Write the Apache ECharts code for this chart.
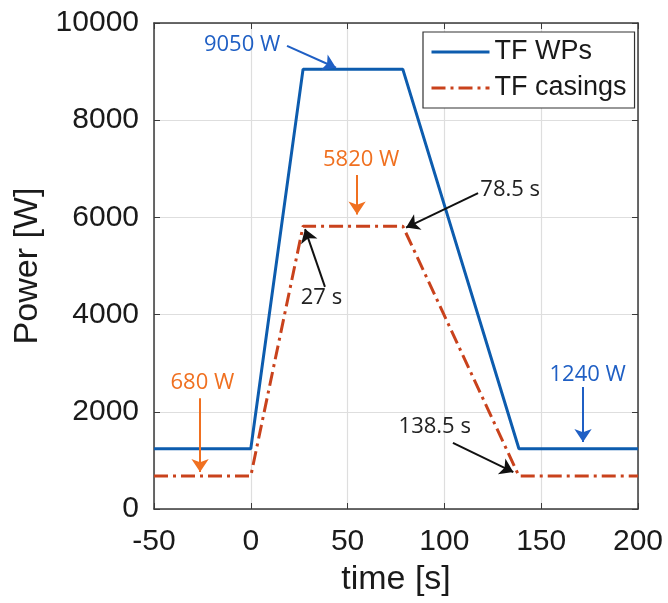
<!DOCTYPE html>
<html>
<head>
<meta charset="utf-8">
<script src="https://cdn.jsdelivr.net/npm/echarts@6/dist/echarts.min.js"></script>
<style>
  html, body { margin: 0; padding: 0; background: #fff; }
  #chart { width: 668px; height: 603px; }
</style>
</head>
<body>
<div id="chart"></div>
<script>
  // time [s] / power [W] breakpoints
  var wpTime = [-50, 0, 27, 78.5, 138.5, 200];
  var wpPower = [1240, 1240, 9050, 9050, 1240, 1240];
  var casTime = [-50, 0, 27, 78.5, 138.5, 200];
  var casPower = [680, 680, 5820, 5820, 680, 680];

  var xTicks = [-50, 0, 50, 100, 150, 200];
  var yTicks = [0, 2000, 4000, 6000, 8000, 10000];

  // annotation text: [label, x, y, colour]
  var annoTexts = [
    ['9050 W', -4.5, 9550, '#1f5fc4'],
    ['5820 W', 57, 7180, '#f07020'],
    ['78.5 s', 134, 6560, '#222'],
    ['27 s', 36.5, 4340, '#222'],
    ['680 W', -25, 2590, '#f07020'],
    ['1240 W', 174, 2760, '#1f5fc4'],
    ['138.5 s', 95, 1690, '#222']
  ];
  // annotation arrows: [x1, y1, x2, y2, colour]
  var annoArrows = [
    [18.7, 9530, 44, 9080, '#1f5fc4'],
    [54.9, 6870, 54.9, 6060, '#f07020'],
    [117.4, 6500, 80.2, 5790, '#111'],
    [38.3, 4570, 28, 5760, '#111'],
    [-26.2, 2280, -26.2, 760, '#f07020'],
    [171.6, 2510, 171.6, 1380, '#1f5fc4'],
    [104.4, 1360, 135.6, 760, '#111']
  ];

  function pairs(xs, ys) {
    var out = [];
    for (var i = 0; i < xs.length; i++) {
      out.push([xs[i], ys[i]]);
    }
    return out;
  }

  var markPoints = annoTexts.map(function(d) {
    return {
      name: d[0],
      coord: [d[1], d[2]],
      label: { color: d[3] }
    };
  });
  var markLines = annoArrows.map(function(d) {
    return [
      { coord: [d[0], d[1]], lineStyle: { color: d[4] }, itemStyle: { color: d[4] } },
      { coord: [d[2], d[3]], lineStyle: { color: d[4] }, itemStyle: { color: d[4] } }
    ];
  });

  var tickFont = { fontFamily: 'Liberation Sans', fontSize: 30, color: '#1a1a1a' };
  var titleFont = { fontFamily: 'Liberation Sans', fontSize: 34, color: '#1a1a1a' };
  var axisLine = { show: true, onZero: false, lineStyle: { color: '#3a3a3a', width: 1.5 } };
  var splitLine = { show: true, lineStyle: { color: '#dedede', width: 1.2 } };
  var tick = { show: true, inside: true, length: 6, lineStyle: { color: '#3a3a3a' } };

  var myChart = echarts.init(document.getElementById('chart'), null, { renderer: 'canvas' });
  var option = {
    animation: false,
    backgroundColor: '#fff',
    grid: { left: 154, right: 30, top: 23, bottom: 94 },
    legend: {
      data: ['TF WPs', 'TF casings'],
      orient: 'vertical',
      left: 423,
      top: 32,
      padding: [5, 8, 5, 7],
      itemGap: 6,
      itemWidth: 58,
      itemHeight: 14,
      itemStyle: { opacity: 0 },
      lineStyle: { width: 3 },
      borderColor: '#333',
      borderWidth: 1.2,
      borderRadius: 0,
      backgroundColor: '#fff',
      textStyle: { fontFamily: 'Liberation Sans', fontSize: 27, color: '#1a1a1a', lineHeight: 30 }
    },
    xAxis: [{
      type: 'value',
      min: xTicks[0],
      max: xTicks[xTicks.length - 1],
      interval: 50,
      name: 'time [s]',
      nameLocation: 'middle',
      nameGap: 54,
      nameTextStyle: titleFont,
      axisLine: axisLine,
      axisTick: tick,
      axisLabel: Object.assign({ margin: 18 }, tickFont),
      splitLine: splitLine
    }, {
      type: 'value',
      position: 'top',
      min: xTicks[0],
      max: xTicks[xTicks.length - 1],
      interval: 50,
      axisLine: axisLine,
      axisTick: tick,
      axisLabel: { show: false },
      splitLine: { show: false }
    }],
    yAxis: [{
      type: 'value',
      min: yTicks[0],
      max: yTicks[yTicks.length - 1],
      interval: 2000,
      name: 'Power [W]',
      nameLocation: 'middle',
      nameGap: 107,
      nameTextStyle: titleFont,
      axisLine: axisLine,
      axisTick: tick,
      axisLabel: Object.assign({ margin: 15, formatter: function(v) { return String(v); } }, tickFont),
      splitLine: splitLine
    }, {
      type: 'value',
      position: 'right',
      min: yTicks[0],
      max: yTicks[yTicks.length - 1],
      interval: 2000,
      axisLine: axisLine,
      axisTick: tick,
      axisLabel: { show: false },
      splitLine: { show: false }
    }],
    series: [{
      name: 'TF casings',
      type: 'line',
      data: pairs(casTime, casPower),
      symbol: 'none',
      silent: true,
      z: 3,
      itemStyle: { color: '#c9421c' },
      lineStyle: { color: '#c9421c', width: 3, type: [14, 5, 3, 5] }
    }, {
      name: 'TF WPs',
      type: 'line',
      data: pairs(wpTime, wpPower),
      symbol: 'none',
      silent: true,
      z: 4,
      itemStyle: { color: '#0d5cae' },
      lineStyle: { color: '#0d5cae', width: 3 },
      markLine: {
        silent: true,
        symbol: ['none', 'arrow'],
        symbolSize: 13,
        label: { show: false },
        lineStyle: { width: 2, type: 'solid' },
        data: markLines
      },
      markPoint: {
        silent: true,
        symbol: 'circle',
        symbolSize: 0,
        label: {
          show: true,
          position: 'inside',
          formatter: '{b}',
          fontFamily: 'Open Sans',
          fontSize: 22,
          letterSpacing: -0.8
        },
        data: markPoints
      }
    }]
  };
  myChart.setOption(option);
</script>
</body>
</html>
